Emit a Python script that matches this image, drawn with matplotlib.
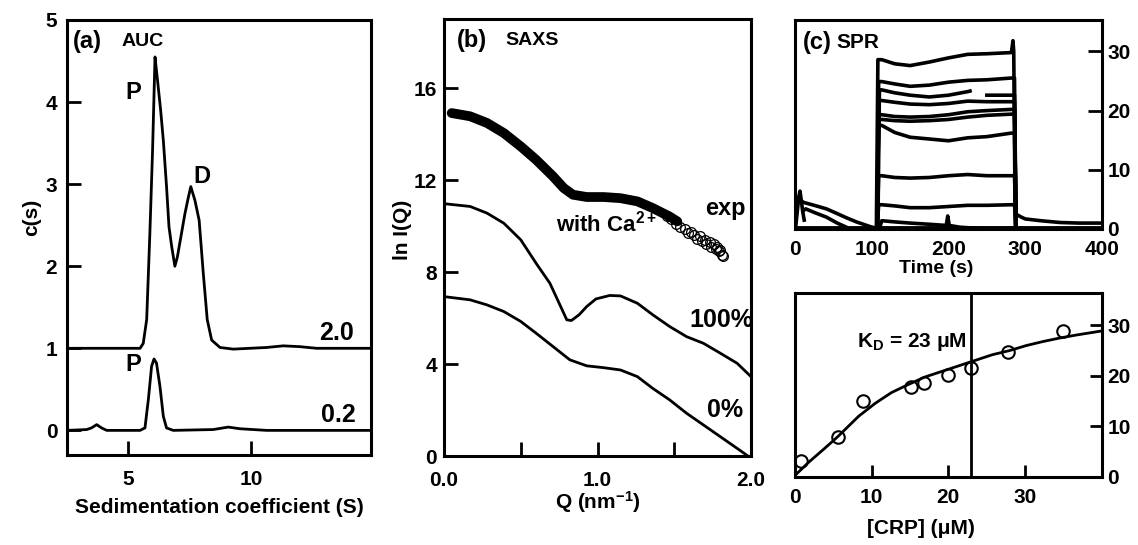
import matplotlib
matplotlib.use('Agg')
import matplotlib.pyplot as plt
import numpy as np

plt.rcParams['font.family'] = 'Liberation Sans'
plt.rcParams['font.weight'] = 'bold'
plt.rcParams['mathtext.fontset'] = 'custom'
plt.rcParams['mathtext.rm'] = 'Liberation Sans:bold'
plt.rcParams['mathtext.bf'] = 'Liberation Sans:bold'
plt.rcParams['mathtext.it'] = 'Liberation Sans:bold'

# (a) AUC c(s) distributions
auc_s_hi = [2.5, 5.48, 5.61, 5.75, 5.88, 5.99, 6.09, 6.18, 6.32, 6.43, 6.56, 6.66, 6.77, 6.9, 7.0,
            7.17, 7.31, 7.45, 7.55, 7.72, 7.89, 8.06, 8.22, 8.4, 8.74, 9.28, 10.64, 11.32, 12.0, 12.68, 14.9]
auc_c_hi = [1.0, 1.0, 1.06, 1.35, 2.4, 3.41, 4.55, 4.3, 3.9, 3.53, 2.97, 2.48, 2.24, 2.0, 2.11,
            2.4, 2.64, 2.84, 2.97, 2.8, 2.56, 1.91, 1.35, 1.1, 1.01, 0.99, 1.01, 1.03, 1.02, 1.0, 1.0]
auc_s_lo = [2.5, 3.3, 3.5, 3.71, 3.91, 4.12, 5.48, 5.68, 5.82, 5.95, 6.05, 6.15, 6.29, 6.43, 6.56,
            6.83, 8.46, 9.08, 9.55, 10.64, 14.9]
auc_c_lo = [0.0, 0.01, 0.03, 0.07, 0.03, 0.0, 0.0, 0.03, 0.38, 0.78, 0.87, 0.82, 0.54, 0.17, 0.03,
            0.0, 0.01, 0.04, 0.02, 0.0, 0.0]

# (b) SAXS
q_exp = [0.05, 0.17, 0.28, 0.39, 0.50, 0.60, 0.71, 0.78, 0.84, 0.93, 1.04, 1.15, 1.26, 1.36, 1.47, 1.52]
lnI_exp = [14.91, 14.77, 14.48, 14.04, 13.46, 12.88, 12.16, 11.65, 11.36, 11.26, 11.26, 11.21, 11.07,
           10.78, 10.41, 10.2]
q_tail = [1.45, 1.48, 1.51, 1.54, 1.57, 1.59, 1.61, 1.63, 1.65, 1.67, 1.68, 1.70, 1.71, 1.73, 1.74,
          1.76, 1.77, 1.78, 1.79, 1.80, 1.81, 1.82]
lnI_tail = [10.45, 10.3, 10.1, 9.95, 9.85, 9.7, 9.75, 9.6, 9.45, 9.55, 9.35, 9.4, 9.2, 9.3, 9.1,
            9.2, 9.0, 9.1, 8.9, 8.95, 8.75, 8.7]
q_100 = [0.0, 0.17, 0.28, 0.39, 0.50, 0.60, 0.69, 0.76, 0.80, 0.83, 0.88, 0.93, 0.99, 1.08, 1.15,
         1.26, 1.36, 1.47, 1.58, 1.69, 1.80, 1.91, 2.0]
lnI_100 = [10.97, 10.85, 10.56, 10.12, 9.4, 8.38, 7.51, 6.5, 5.92, 5.89, 6.14, 6.5, 6.83, 6.98, 6.96,
           6.64, 6.14, 5.63, 5.19, 4.9, 4.47, 4.03, 3.45]
q_0 = [0.0, 0.17, 0.28, 0.39, 0.50, 0.60, 0.71, 0.82, 0.93, 1.04, 1.15, 1.26, 1.36, 1.47, 1.58,
       1.69, 1.80, 1.91, 1.98]
lnI_0 = [6.93, 6.79, 6.57, 6.28, 5.85, 5.34, 4.76, 4.18, 3.92, 3.84, 3.74, 3.45, 2.94, 2.44, 1.86,
         1.35, 0.84, 0.33, 0.0]

# (c) SPR sensorgrams: plateau values at spr_t
spr_t = [113, 130, 150, 175, 200, 225, 250, 282]
spr_top = [28.6, 27.9, 27.6, 28.2, 28.9, 29.5, 29.6, 29.8]
spr_mid = [
    [24.9, 24.5, 24.1, 24.3, 24.8, 25.1, 25.2, 25.5],
    [21.7, 21.4, 21.1, 21.0, 21.2, 21.6, 21.5, 21.5],
    [19.3, 19.0, 18.9, 19.0, 19.3, 19.8, 20.0, 20.2],
    [18.5, 18.3, 18.2, 18.3, 18.5, 18.9, 19.2, 19.4],
    [17.5, 16.3, 15.5, 15.2, 14.9, 15.4, 15.6, 16.2],
    [9.0, 8.7, 8.6, 8.7, 9.0, 9.2, 9.0, 9.0],
    [4.1, 3.9, 3.6, 3.6, 3.8, 4.0, 4.0, 4.1],
]
spr3_t = [113, 130, 150, 175, 200, 225, 228, 247, 250, 282]
spr3_v = [23.5, 23.0, 22.6, 22.3, 22.6, 23.2, 23.3, np.nan, 22.6, 22.6]
spr_low_t = [110, 113, 130, 150, 175, 197, 199, 201, 215, 240, 282]
spr_low_v = [0, 1.4, 1.2, 1.0, 0.8, 0.6, 2.2, 0.6, 0.3, 0.1, 0.1]
pre_a_t = [8, 11, 25, 41, 55, 67, 80, 98, 104]
pre_a_v = [4.8, 4.5, 4.0, 3.4, 2.6, 1.9, 1.2, 0.4, 0.2]
pre_b_t = [12, 14, 25, 41, 55, 67]
pre_b_v = [3.2, 3.4, 2.8, 2.0, 1.0, 0.3]
spike_t = [1, 3, 5, 6.5, 8, 10, 12]
spike_v = [0.5, 3, 5.5, 6.4, 5, 3, 1.5]
post_t = [288, 295, 300, 320, 345, 370, 400]
post_v = [2.5, 2.0, 1.7, 1.4, 1.1, 1.0, 1.0]

# (d) binding isotherm
crp = [0.8, 5.6, 8.9, 15.1, 16.9, 20.0, 23.0, 27.8, 35.0]
resp = [3.1, 7.9, 15.0, 17.8, 18.6, 20.2, 21.6, 24.7, 28.9]
fit_x = [0, 1.7, 3.9, 5.6, 8.3, 10.5, 12.6, 14.8, 17.0, 19.2, 21.4, 23.6, 25.8, 28.0, 30.2, 32.4,
         34.6, 36.8, 40.1]
fit_y = [0.3, 2.8, 5.7, 8.0, 12.0, 14.6, 16.7, 18.3, 19.8, 20.9, 22.0, 23.1, 24.2, 25.0, 26.0, 26.8,
         27.5, 28.1, 28.9]
kd = 23

W, H = 1138, 545
fig = plt.figure(figsize=(W / 100, H / 100), dpi=100)
TICK = 15


def box(l, t, r, b):
    ax = fig.add_axes([l / W, 1 - b / H, (r - l) / W, (b - t) / H])
    for s in ax.spines.values():
        s.set_linewidth(2.2)
    return ax


ax_a = box(67, 20, 371, 455)
ax_b = box(444, 19, 751, 456)
ax_c = box(795, 20, 1102, 229)
ax_d = box(795, 293, 1102, 477)

# ---- (a)
ax_a.plot(auc_s_hi, auc_c_hi, color='black', lw=2)
ax_a.plot(auc_s_lo, auc_c_lo, color='black', lw=2)
ax_a.set_xlim(2.5, 14.9)
ax_a.set_ylim(-0.3, 5)
ax_a.set_xticks([5, 10])
ax_a.set_yticks([0, 1, 2, 3, 4, 5])
ax_a.tick_params(direction='in', length=10, width=2, labelsize=TICK, pad=7)
ax_a.tick_params(axis='x', pad=11)
ax_a.set_ylabel('c(s)', fontsize=15, fontweight='bold', va='center')
ax_a.yaxis.set_label_coords(-0.115, 0.547)
ax_a.set_xlabel('Sedimentation coefficient (S)', fontsize=15, fontweight='bold', va='center')
ax_a.xaxis.set_label_coords(0.5, -0.12)
ax_a.text(0.02, 0.95, '(a)', transform=ax_a.transAxes, fontsize=17, va='center')
ax_a.text(0.18, 0.95, 'AUC', transform=ax_a.transAxes, fontsize=14, va='center')
ax_a.text(5.2, 4.12, 'P', fontsize=17, ha='center', va='center')
ax_a.text(5.2, 0.80, 'P', fontsize=17, ha='center', va='center')
ax_a.text(8.0, 3.09, 'D', fontsize=17, ha='center', va='center')
ax_a.text(13.5, 1.19, '2.0', fontsize=18, ha='center', va='center')
ax_a.text(13.55, 0.19, '0.2', fontsize=18, ha='center', va='center')

# ---- (b)
ax_b.plot(q_exp, lnI_exp, color='black', lw=7, solid_capstyle='round')
ax_b.plot(q_tail, lnI_tail, 'o', mfc='none', mec='black', ms=7, mew=0.9)
ax_b.plot(q_100, lnI_100, color='black', lw=2)
ax_b.plot(q_0, lnI_0, color='black', lw=2)
ax_b.set_xlim(0, 2.0)
ax_b.set_ylim(0, 19)
ax_b.set_xticks([0, 0.5, 1.0, 1.5, 2.0])
ax_b.set_xticklabels(['0.0', '', '1.0', '', '2.0'])
ax_b.set_yticks([0, 4, 8, 12, 16])
ax_b.tick_params(direction='in', length=10, width=2, labelsize=TICK, pad=5)
ax_b.tick_params(axis='x', pad=11)
ax_b.set_ylabel('ln I(Q)', fontsize=15, fontweight='bold', va='center')
ax_b.yaxis.set_label_coords(-0.134, 0.517)
ax_b.set_xlabel(r'Q (nm$^{\mathbf{-1}}$)', fontsize=15, fontweight='bold', va='center')
ax_b.xaxis.set_label_coords(0.5, -0.105)
ax_b.text(0.042, 0.95, '(b)', transform=ax_b.transAxes, fontsize=17, va='center')
ax_b.text(0.2, 0.95, 'SAXS', transform=ax_b.transAxes, fontsize=14, va='center')
ax_b.text(1.83, 10.78, 'exp', fontsize=17, ha='center', va='center')
ax_b.text(1.06, 10.1, r'with $\mathrm{Ca}^{2+}$', fontsize=16, ha='center', va='center')
ax_b.text(1.81, 5.9, '100%', fontsize=18, ha='center', va='center')
ax_b.text(1.83, 2.0, '0%', fontsize=18, ha='center', va='center')

# ---- (c)
lw_c = 2.6
ax_c.plot([0, 400], [0.2, 0.2], color='black', lw=3.5)
ax_c.plot([106, 108] + spr_t + [284, 285, 287], [0, spr_top[0]] + spr_top + [31.8, 30, 0],
          color='black', lw=lw_c)
for vals in spr_mid:
    ax_c.plot([107, 109] + spr_t + [286, 288], [0, vals[0]] + vals + [vals[-1], 0],
              color='black', lw=lw_c)
ax_c.plot([108, 110] + spr3_t + [286, 288], [0, spr3_v[0]] + spr3_v + [spr3_v[-1], 0],
          color='black', lw=lw_c)
ax_c.plot(spr_low_t, spr_low_v, color='black', lw=lw_c)
ax_c.plot(pre_a_t, pre_a_v, color='black', lw=lw_c)
ax_c.plot(pre_b_t, pre_b_v, color='black', lw=lw_c)
ax_c.plot(spike_t, spike_v, color='black', lw=lw_c)
ax_c.plot(post_t, post_v, color='black', lw=lw_c)
ax_c.set_xlim(0, 400)
ax_c.set_ylim(0, 35.3)
ax_c.set_xticks([0, 100, 200, 300, 400])
ax_c.set_yticks([0, 10, 20, 30])
ax_c.yaxis.tick_right()
ax_c.tick_params(axis='x', length=0, labelsize=TICK, pad=8)
ax_c.tick_params(axis='y', direction='in', length=10, width=2, labelsize=TICK, pad=4)
ax_c.set_xlabel('Time (s)', fontsize=14, fontweight='bold', va='center')
ax_c.xaxis.set_label_coords(0.46, -0.19)
ax_c.text(0.026, 0.89, '(c)', transform=ax_c.transAxes, fontsize=17, va='center')
ax_c.text(0.135, 0.89, 'SPR', transform=ax_c.transAxes, fontsize=15, va='center')

# ---- (d)
ax_d.plot(fit_x, fit_y, color='black', lw=2)
ax_d.plot(crp, resp, 'o', mfc='none', mec='black', ms=9, mew=1.5)
ax_d.axvline(kd, color='black', lw=2)
ax_d.set_xlim(0, 40.1)
ax_d.set_ylim(0, 36.4)
ax_d.set_xticks([0, 10, 20, 30])
ax_d.set_yticks([0, 10, 20, 30])
ax_d.yaxis.tick_right()
ax_d.tick_params(direction='in', length=9, width=2, labelsize=TICK, pad=4)
ax_d.tick_params(axis='x', pad=8)
ax_d.set_xlabel('[CRP] (μM)', fontsize=15, fontweight='bold', va='center')
ax_d.xaxis.set_label_coords(0.41, -0.28)
ax_d.text(22.5, 26.8, r'K$_{\mathbf{D}}$ = 23 μM', fontsize=15, ha='right', va='center')

fig.savefig('out.png', dpi=100)
